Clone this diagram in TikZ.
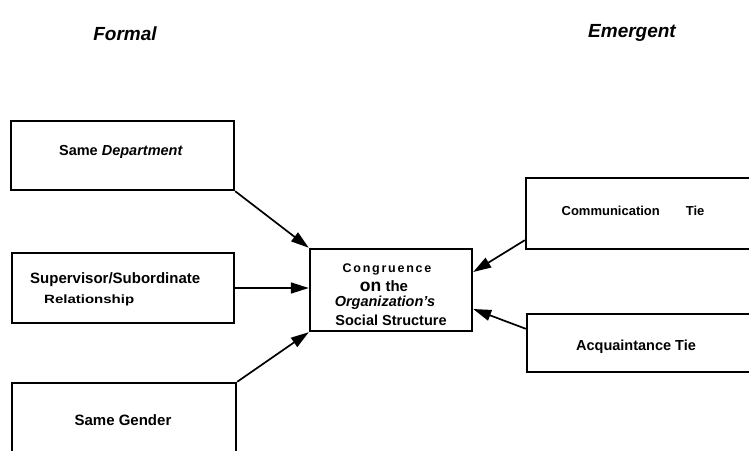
\documentclass[tikz,border=0pt]{standalone}
\usepackage{fontspec}
\setmainfont{Liberation Sans}
\usetikzlibrary{arrows.meta,calc}
\tikzset{
  box/.style={draw, line width=2.4pt, rectangle, inner sep=0pt, align=center},
  lbl/.style={font=\bfseries, inner sep=0pt, align=center},
  arr/.style={line width=1.7pt, -{Triangle[length=18pt,width=11pt]}},
  hd/.style={font=\bfseries\itshape\fontsize{19}{22}\selectfont, inner sep=0pt}
}
\begin{document}
\begin{tikzpicture}[x=1pt,y=-1pt]
\useasboundingbox (0,0) rectangle (749,450);
\clip (0,0) rectangle (749,450);
\node[hd] (formal) at (125,34) {Formal};
\node[hd] (emergent) at (632,33) {Emergent};

\node[box, minimum width=223pt, minimum height=69pt] (dept) at (122.5,155.5) {};
\node[lbl, font=\bfseries\fontsize{14.5}{17}\selectfont] (deptt) at (121,152) {Same \textit{Department}};

\node[box, minimum width=222pt, minimum height=70pt] (sup) at (123,288) {};
\node[lbl, anchor=west, font=\bfseries\fontsize{15}{17}\selectfont] (supt) at (30,280) {Supervisor/Subordinate};
\node[lbl, anchor=west, font=\bfseries\fontsize{12}{14}\selectfont] (relt) at (44,300) {\addfontfeatures{FakeStretch=1.25}Relationship};

\node[box, minimum width=224pt, minimum height=75pt] (gen) at (124,420.5) {};
\node[lbl, font=\bfseries\fontsize{15}{17}\selectfont] (gent) at (123,420) {Same Gender};

\node[box, minimum width=162pt, minimum height=82pt] (cong) at (391,290) {};
\node[lbl, font=\bfseries\fontsize{12.5}{14}\selectfont] (c1) at (387,269) {\addfontfeatures{LetterSpace=14}Congruence};
\node[lbl, font=\bfseries\fontsize{15}{17}\selectfont] (c2) at (384,286) {{\fontsize{17.5}{17}\selectfont on} the};
\node[lbl, font=\bfseries\itshape\fontsize{14.5}{17}\selectfont] (c3) at (385,303) {Organization's};
\node[lbl, font=\bfseries\fontsize{14.5}{17}\selectfont] (c4) at (391,320) {Social Structure};

\node[box, minimum width=234pt, minimum height=71pt] (comm) at (643,213.5) {};
\node[lbl, font=\bfseries\fontsize{13}{15}\selectfont] (commt) at (633,211) {Communication\hspace{26pt}Tie};

\node[box, minimum width=233pt, minimum height=58pt] (acq) at (643.5,343) {};
\node[lbl, font=\bfseries\fontsize{14.5}{17}\selectfont] (acqt) at (636,347) {Acquaintance Tie};

\draw[arr] (dept.south east) -- (cong.north west);
\draw[arr] (sup.east) -- (sup.east -| cong.west);
\draw[arr] (gen.north east) -- (cong.south west);
\draw[arr] ([yshift=10pt]comm.south west) -- ([yshift=18pt]cong.east);
\draw[arr] ([yshift=-16pt]acq.north west) -- ([yshift=-19pt]cong.east);
\end{tikzpicture}
\end{document}
